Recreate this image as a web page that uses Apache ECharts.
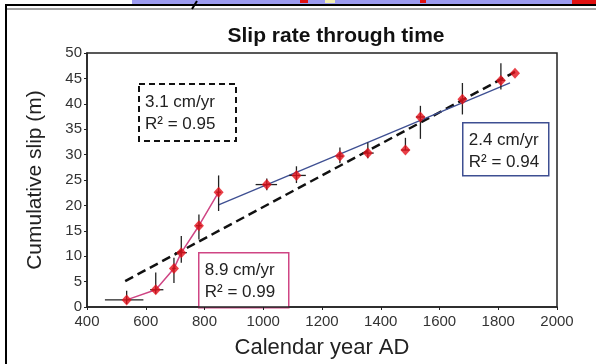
<!DOCTYPE html>
<html>
<head>
<meta charset="utf-8">
<script src="https://cdn.jsdelivr.net/npm/echarts@6/dist/echarts.min.js"></script>
<style>
  html, body { margin: 0; padding: 0; background: #fff; }
  #chart { width: 596px; height: 364px; }
</style>
</head>
<body>
<div id="chart"></div>
<script>
// dated offsets (calendar year AD, cumulative slip in m)
const years = [535, 634, 696, 721, 781, 848, 1012, 1113, 1261, 1356, 1484, 1535, 1678, 1809, 1857];
const slip = [1.4, 3.4, 7.6, 10.7, 16.0, 22.6, 24.1, 25.9, 29.7, 30.3, 30.9, 37.4, 40.9, 44.6, 46.0];
// error bar extents
const slipLow = [0.6, 2.6, 4.7, 8.7, 13.3, 18.9, 23.0, 24.4, 28.3, 29.3, 30.9, 33.1, 37.9, 42.8, 46.0];
const slipHigh = [3.2, 6.8, 9.7, 14.0, 18.2, 25.9, 25.3, 27.7, 31.4, 32.4, 33.3, 39.6, 44.1, 48.0, 46.0];
const yearLow = [461, 615, 690, 700, 771, 840, 974, 1088, 1250, 1336, 1470, 1520, 1670, 1795, 1857];
const yearHigh = [592, 660, 702, 740, 791, 856, 1047, 1145, 1272, 1376, 1498, 1550, 1686, 1823, 1857];

// fitted lines
const earlyCount = 6; // points joined by the 8.9 cm/yr segment
const lateFit = [[848, 20.1], [1840, 44.1]];
const overallFit = [[530, 5.1], [1857, 46.3]];

const xTicks = [400, 600, 800, 1000, 1200, 1400, 1600, 1800, 2000];
const yTicks = [0, 5, 10, 15, 20, 25, 30, 35, 40, 45, 50];

const font = '"Liberation Sans", Arial, sans-serif';
const pink = '#cf4584';
const blue = '#3e4f92';
const red = '#e3101a';

const points = years.map((y, i) => [y, slip[i]]);
const bars = years.map((y, i) => [y, slip[i], yearLow[i], yearHigh[i], slipLow[i], slipHigh[i]]);

const chart = echarts.init(document.getElementById('chart'));

function noteBox(left, top, w, h, lines, stroke, dashed) {
    return {
        type: 'group', left: left, top: top,
        children: [
            {
                type: 'rect', shape: { x: 0, y: 0, width: w, height: h },
                style: { fill: '#fff', stroke: stroke, lineWidth: dashed ? 2 : 1.5, lineDash: dashed ? [6, 4] : null }
            },
            {
                type: 'text', x: 6, y: 7,
                style: { text: lines.join('\n'), font: '17px ' + font, fill: '#222', lineHeight: 22 }
            }
        ]
    };
}

chart.setOption({
    animation: false,
    backgroundColor: '#fff',
    title: {
        text: 'Slip rate through time',
        left: 331, top: 21, textAlign: 'center',
        textStyle: { fontFamily: font, fontSize: 21, fontWeight: 'bold', color: '#111' }
    },
    grid: {
        left: 87, right: 39, top: 53, bottom: 54,
        show: true, borderColor: '#222', borderWidth: 1.5, backgroundColor: 'transparent'
    },
    xAxis: {
        type: 'value', min: 400, max: 2000, interval: 200,
        name: 'Calendar year AD', nameLocation: 'middle', nameGap: 30,
        nameTextStyle: { fontFamily: font, fontSize: 22, color: '#222' },
        axisLine: { show: true, lineStyle: { color: '#222', width: 1.5 } },
        axisTick: { show: true, length: 3, lineStyle: { color: '#222' } },
        axisLabel: {
            margin: 7, fontFamily: font, fontSize: 15, color: '#333',
            formatter: v => xTicks.includes(v) ? String(v) : ''
        },
        splitLine: { show: false }
    },
    yAxis: {
        type: 'value', min: 0, max: 50, interval: 5,
        name: 'Cumulative slip (m)', nameLocation: 'middle', nameGap: 41,
        nameTextStyle: { fontFamily: font, fontSize: 21, color: '#222' },
        axisLine: { show: true, lineStyle: { color: '#222', width: 1.5 } },
        axisTick: { show: true, length: 3, lineStyle: { color: '#222' } },
        axisLabel: {
            margin: 5, fontFamily: font, fontSize: 15, color: '#333',
            formatter: v => yTicks.includes(v) ? String(v) : ''
        },
        splitLine: { show: false }
    },
    graphic: [
        // scrap of the figure above and the outer frame
        { type: 'rect', shape: { x: 132, y: 0, width: 464, height: 4 }, style: { fill: '#9c9bf0' } },
        { type: 'rect', shape: { x: 300, y: 0, width: 8, height: 3 }, style: { fill: '#e01010' } },
        { type: 'rect', shape: { x: 325, y: 0, width: 10, height: 3 }, style: { fill: '#f2eeb0' } },
        { type: 'rect', shape: { x: 420, y: 0, width: 6, height: 3 }, style: { fill: '#e01010' } },
        { type: 'rect', shape: { x: 572, y: 0, width: 24, height: 4 }, style: { fill: '#e01010' } },
        { type: 'line', shape: { x1: 6, y1: 5, x2: 596, y2: 5 }, style: { stroke: '#000', lineWidth: 2 } },
        { type: 'line', shape: { x1: 6, y1: 9, x2: 596, y2: 9 }, style: { stroke: '#444', lineWidth: 1 } },
        { type: 'line', shape: { x1: 6, y1: 4, x2: 6, y2: 364 }, style: { stroke: '#000', lineWidth: 2 } },
        { type: 'line', shape: { x1: 192, y1: 9, x2: 197, y2: 1 }, style: { stroke: '#000', lineWidth: 2 } },
        noteBox(138, 83, 97, 57, ['3.1 cm/yr', 'R² = 0.95'], '#111', true),
        noteBox(462, 122, 86, 53, ['2.4 cm/yr', 'R² = 0.94'], blue, false),
        noteBox(198, 252, 90, 55, ['8.9 cm/yr', 'R² = 0.99'], pink, false)
    ],
    series: [
        {
            type: 'line', data: overallFit, symbol: 'none', z: 2,
            lineStyle: { color: '#111', width: 2.5, type: [9, 5] }
        },
        {
            type: 'line', data: lateFit, symbol: 'none', z: 2,
            lineStyle: { color: blue, width: 1.3 }
        },
        {
            type: 'line', data: points.slice(0, earlyCount), symbol: 'none', z: 2,
            lineStyle: { color: pink, width: 1.5 }
        },
        {
            type: 'custom', data: bars, z: 3,
            renderItem: (params, api) => {
                const x = api.value(0), y = api.value(1);
                const children = [];
                if (api.value(2) !== api.value(3)) {
                    const a = api.coord([api.value(2), y]), b = api.coord([api.value(3), y]);
                    children.push({ type: 'line', shape: { x1: a[0], y1: a[1], x2: b[0], y2: b[1] }, style: { stroke: '#222', lineWidth: 1.3 } });
                }
                if (api.value(4) !== api.value(5)) {
                    const a = api.coord([x, api.value(4)]), b = api.coord([x, api.value(5)]);
                    children.push({ type: 'line', shape: { x1: a[0], y1: a[1], x2: b[0], y2: b[1] }, style: { stroke: '#222', lineWidth: 1.3 } });
                }
                return { type: 'group', children: children };
            }
        },
        {
            type: 'scatter', data: points, symbol: 'diamond', symbolSize: [10, 11], z: 4,
            itemStyle: { color: red }
        }
    ]
});
</script>
</body>
</html>
